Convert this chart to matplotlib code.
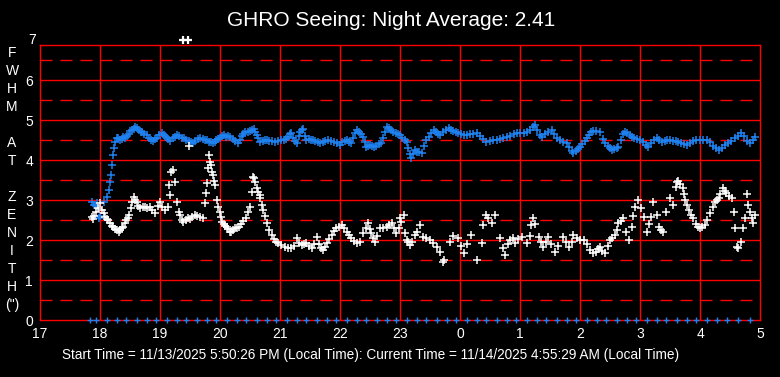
import matplotlib
matplotlib.use("Agg")
import matplotlib.pyplot as plt

# seeing in arcsec vs local hour (hours past midnight counted as 24+)
blue_t = [17.87, 17.90, 17.93, 17.95, 17.98, 18.00, 18.06, 18.11, 18.15, 18.17,
          18.18, 18.20, 18.22, 18.24,
          18.25, 18.28, 18.30, 18.33, 18.36, 18.39, 18.42, 18.45, 18.48, 18.50,
          18.53, 18.56, 18.59, 18.62, 18.65, 18.68, 18.70, 18.74, 18.78, 18.81,
          18.85, 18.88, 18.92, 18.95, 18.99, 19.03, 19.06, 19.10, 19.13, 19.17,
          19.21, 19.25, 19.28, 19.32, 19.36, 19.40, 19.44, 19.48, 19.52, 19.55,
          19.59, 19.63, 19.67, 19.71, 19.75, 19.78, 19.82, 19.85, 19.88, 19.91,
          19.94, 19.97, 20.00, 20.03, 20.06, 20.10, 20.13, 20.17, 20.21, 20.25,
          20.30, 20.33, 20.36, 20.39, 20.42, 20.46, 20.50, 20.53, 20.56, 20.59,
          20.62, 20.64, 20.67, 20.71, 20.75, 20.78, 20.82, 20.87, 20.92, 20.96,
          21.01, 21.06, 21.10, 21.14, 21.17, 21.19, 21.22, 21.25, 21.28, 21.31,
          21.34, 21.36, 21.38, 21.41, 21.44, 21.48, 21.52, 21.55, 21.59, 21.63,
          21.67, 21.71, 21.75, 21.80, 21.85, 21.90, 21.95, 22.00, 22.04, 22.08,
          22.11, 22.15, 22.19, 22.22, 22.25, 22.28, 22.31, 22.35, 22.39, 22.42,
          22.44, 22.47, 22.50, 22.53, 22.56, 22.60, 22.65, 22.69, 22.72, 22.75,
          22.78, 22.81, 22.85, 22.89, 22.93, 22.97, 23.00, 23.04, 23.08, 23.11,
          23.14, 23.17, 23.19, 23.22, 23.25, 23.28, 23.32, 23.36, 23.40, 23.44,
          23.48, 23.52, 23.56, 23.60, 23.64, 23.67, 23.71, 23.76, 23.81, 23.85,
          23.89, 23.93, 23.97, 24.02, 24.06, 24.11, 24.16, 24.22, 24.28, 24.33,
          24.38, 24.44, 24.50, 24.55, 24.61, 24.67, 24.72, 24.78, 24.84, 24.90,
          24.95, 25.00, 25.06, 25.11, 25.16, 25.21, 25.25, 25.29, 25.33, 25.36,
          25.41, 25.47, 25.53, 25.57, 25.61, 25.66, 25.72, 25.78, 25.82, 25.86,
          25.89, 25.93, 25.97, 26.00, 26.04, 26.08, 26.11, 26.15, 26.19, 26.22,
          26.27, 26.33, 26.38, 26.42, 26.46, 26.50, 26.53, 26.57, 26.61, 26.64,
          26.68, 26.72, 26.75, 26.79, 26.83, 26.86, 26.90, 26.95, 27.00, 27.05,
          27.10, 27.14, 27.19, 27.24, 27.28, 27.32, 27.36, 27.41, 27.45, 27.50,
          27.55, 27.60, 27.64, 27.69, 27.73, 27.78, 27.83, 27.89, 27.94, 28.00,
          28.05, 28.11, 28.16, 28.21, 28.26, 28.31, 28.36, 28.42, 28.47, 28.52,
          28.58, 28.63, 28.69, 28.74, 28.79, 28.83, 28.88, 28.92]
blue_v = [2.95, 2.88, 2.85, 2.92, 2.55, 2.60, 2.95, 3.08, 3.25, 3.46,
          3.62, 3.87, 4.12, 4.29,
          4.44, 4.56, 4.54, 4.50, 4.52, 4.58, 4.55, 4.60, 4.66, 4.72,
          4.74, 4.78, 4.82, 4.80, 4.74, 4.71, 4.70, 4.64, 4.62, 4.55,
          4.50, 4.48, 4.52, 4.55, 4.62, 4.67, 4.62, 4.58, 4.52, 4.48,
          4.54, 4.58, 4.62, 4.60, 4.56, 4.55, 4.50, 4.47, 4.45, 4.43,
          4.48, 4.52, 4.54, 4.52, 4.50, 4.50, 4.46, 4.44, 4.42, 4.46,
          4.50, 4.52, 4.56, 4.60, 4.62, 4.58, 4.60, 4.58, 4.52, 4.47,
          4.42, 4.50, 4.60, 4.66, 4.71, 4.70, 4.72, 4.74, 4.77, 4.70,
          4.62, 4.55, 4.46, 4.48, 4.50, 4.50, 4.48, 4.47, 4.46, 4.48,
          4.49, 4.50, 4.52, 4.58, 4.64, 4.67, 4.55, 4.48, 4.42, 4.60,
          4.70, 4.75, 4.78, 4.60, 4.50, 4.52, 4.50, 4.50, 4.47, 4.44,
          4.42, 4.46, 4.48, 4.50, 4.48, 4.46, 4.42, 4.38, 4.44, 4.48,
          4.50, 4.46, 4.42, 4.55, 4.68, 4.75, 4.70, 4.64, 4.58, 4.45,
          4.33, 4.36, 4.38, 4.35, 4.33, 4.36, 4.40, 4.42, 4.55, 4.70,
          4.83, 4.80, 4.75, 4.71, 4.68, 4.65, 4.62, 4.55, 4.50, 4.46,
          4.30, 4.14, 4.04, 4.15, 4.25, 4.20, 4.20, 4.17, 4.35, 4.50,
          4.58, 4.68, 4.75, 4.70, 4.65, 4.62, 4.70, 4.75, 4.79, 4.75,
          4.72, 4.69, 4.67, 4.64, 4.63, 4.62, 4.64, 4.66, 4.67, 4.60,
          4.52, 4.46, 4.48, 4.49, 4.50, 4.53, 4.55, 4.58, 4.61, 4.64,
          4.67, 4.67, 4.68, 4.69, 4.74, 4.82, 4.87, 4.75, 4.63, 4.58,
          4.65, 4.70, 4.75, 4.64, 4.54, 4.50, 4.46, 4.42, 4.32, 4.22,
          4.17, 4.22, 4.28, 4.33, 4.40, 4.48, 4.54, 4.62, 4.70, 4.73,
          4.72, 4.69, 4.52, 4.42, 4.36, 4.30, 4.25, 4.28, 4.30, 4.33,
          4.50, 4.65, 4.71, 4.68, 4.62, 4.58, 4.55, 4.52, 4.50, 4.44,
          4.38, 4.33, 4.42, 4.50, 4.54, 4.50, 4.46, 4.48, 4.50, 4.50,
          4.48, 4.47, 4.46, 4.42, 4.40, 4.38, 4.42, 4.47, 4.50, 4.50,
          4.50, 4.50, 4.44, 4.36, 4.30, 4.25, 4.30, 4.37, 4.42, 4.48,
          4.54, 4.60, 4.67, 4.60, 4.48, 4.42, 4.50, 4.57]

white_t = [17.86, 17.88, 17.90, 17.93, 17.97, 18.00, 18.03, 18.06, 18.09, 18.12,
           18.14, 18.17, 18.20, 18.22, 18.25, 18.28, 18.31, 18.34, 18.37, 18.39,
           18.42, 18.44, 18.47, 18.49, 18.51, 18.54, 18.56, 18.59, 18.61, 18.64,
           18.67, 18.71, 18.75, 18.79, 18.83, 18.87, 18.92, 18.96, 19.00, 19.04,
           19.08, 19.13, 19.15, 19.16, 19.19, 19.21, 19.25, 19.28, 19.31, 19.33,
           19.36, 19.38, 19.43, 19.47, 19.49, 19.50, 19.54, 19.58, 19.62, 19.67,
           19.71, 19.75, 19.77, 19.78, 19.80, 19.82, 19.84, 19.85, 19.86, 19.88,
           19.90, 19.92, 19.95, 19.97, 20.00, 20.02, 20.03, 20.06, 20.09, 20.11,
           20.14, 20.17, 20.19, 20.22, 20.25, 20.28, 20.31, 20.35, 20.39, 20.43,
           20.47, 20.50, 20.53, 20.55, 20.56, 20.58, 20.61, 20.63, 20.66, 20.67,
           20.70, 20.72, 20.75, 20.78, 20.82, 20.86, 20.90, 20.94, 20.97, 21.02,
           21.08, 21.13, 21.19, 21.23, 21.28, 21.32, 21.36, 21.40, 21.44, 21.48,
           21.53, 21.57, 21.61, 21.65, 21.69, 21.72, 21.75, 21.78, 21.82, 21.86,
           21.90, 21.94, 21.98, 22.03, 22.07, 22.11, 22.15, 22.19, 22.23, 22.28,
           22.33, 22.39, 22.44, 22.47, 22.50, 22.52, 22.55, 22.58, 22.62, 22.67,
           22.72, 22.78, 22.82, 22.86, 22.90, 22.94, 22.99, 23.00, 23.02, 23.06,
           23.08, 23.11, 23.14, 23.17, 23.20, 23.25, 23.29, 23.33, 23.39, 23.44,
           23.50, 23.55, 23.61, 23.66, 23.72, 23.74, 23.83, 23.88, 23.97, 24.02,
           24.06, 24.12, 24.19, 24.28, 24.36, 24.39, 24.43, 24.47, 24.53, 24.58,
           24.67, 24.72, 24.75, 24.80, 24.83, 24.88, 24.92, 24.97, 25.03, 25.11,
           25.16, 25.19, 25.22, 25.25, 25.31, 25.35, 25.39, 25.43, 25.47, 25.52,
           25.58, 25.63, 25.72, 25.76, 25.81, 25.86, 25.89, 25.95, 26.00, 26.06,
           26.12, 26.17, 26.22, 26.26, 26.30, 26.33, 26.37, 26.42, 26.46, 26.50,
           26.54, 26.58, 26.61, 26.64, 26.68, 26.72, 26.77, 26.81, 26.86, 26.89,
           26.92, 26.97, 27.02, 27.06, 27.11, 27.15, 27.19, 27.22, 27.28, 27.31,
           27.35, 27.39, 27.44, 27.50, 27.55, 27.60, 27.62, 27.64, 27.67, 27.71,
           27.73, 27.75, 27.78, 27.81, 27.85, 27.89, 27.93, 27.97, 28.00, 28.04,
           28.08, 28.12, 28.17, 28.21, 28.25, 28.28, 28.31, 28.34, 28.38, 28.41,
           28.44, 28.48, 28.53, 28.56, 28.58, 28.61, 28.64, 28.69, 28.72, 28.75,
           28.78, 28.80, 28.83, 28.86, 28.89, 28.92]
white_v = [2.58, 2.52, 2.60, 2.70, 2.79, 2.92, 2.75, 2.67, 2.58, 2.52,
           2.50, 2.42, 2.36, 2.33, 2.28, 2.24, 2.21, 2.25, 2.30, 2.33,
           2.42, 2.50, 2.56, 2.62, 2.79, 2.95, 3.08, 3.00, 2.96, 2.85,
           2.79, 2.82, 2.83, 2.80, 2.82, 2.75, 2.67, 2.85, 2.96, 2.82,
           2.75, 2.83, 3.38, 3.12, 3.71, 3.75, 3.46, 2.96, 2.70, 2.62,
           2.50, 2.44, 2.50, 2.55, 4.35, 2.52, 2.58, 2.62, 2.60, 2.58,
           2.55, 2.92, 3.17, 3.42, 3.80, 4.12, 3.95, 3.87, 3.71, 3.62,
           3.48, 3.37, 3.00, 2.83, 2.71, 2.58, 2.46, 2.40, 2.35, 2.33,
           2.27, 2.21, 2.21, 2.25, 2.29, 2.30, 2.33, 2.40, 2.48, 2.55,
           2.70, 2.83, 3.20, 3.58, 3.54, 3.45, 3.31, 3.20, 3.12, 3.04,
           2.88, 2.75, 2.60, 2.42, 2.25, 2.12, 2.02, 1.96, 1.92, 1.88,
           1.83, 1.80, 1.79, 1.85, 2.04, 1.92, 1.88, 1.90, 1.92, 1.85,
           1.79, 1.90, 2.08, 1.90, 1.80, 1.75, 1.82, 1.92, 2.02, 2.12,
           2.22, 2.29, 2.33, 2.38, 2.30, 2.21, 2.12, 2.04, 1.98, 1.92,
           1.96, 2.17, 2.30, 2.42, 2.28, 2.17, 2.05, 1.96, 2.10, 2.29,
           2.30, 2.33, 2.38, 2.42, 2.30, 2.17, 2.29, 2.55, 2.45, 2.62,
           2.17, 2.00, 1.95, 1.88, 1.95, 2.12, 2.20, 2.38, 2.08, 2.05,
           2.00, 1.92, 1.83, 1.70, 1.46, 1.50, 1.96, 2.10, 2.04, 1.85,
           1.67, 1.90, 2.12, 1.50, 1.92, 2.38, 2.62, 2.55, 2.42, 2.62,
           2.04, 1.79, 1.62, 1.90, 2.00, 2.05, 1.92, 2.02, 2.08, 1.92,
           2.10, 2.38, 2.54, 2.40, 2.08, 1.95, 1.83, 1.95, 2.08, 1.90,
           1.71, 1.85, 2.08, 1.95, 1.83, 1.95, 2.12, 2.05, 2.00, 2.00,
           1.90, 1.75, 1.67, 1.70, 1.78, 1.83, 1.72, 1.67, 1.85, 2.00,
           2.05, 2.12, 2.25, 2.42, 2.48, 2.54, 2.20, 2.00, 2.33, 2.60,
           2.83, 3.00, 2.80, 2.58, 2.21, 2.40, 2.58, 2.96, 2.62, 2.33,
           2.25, 2.21, 2.71, 3.04, 2.88, 3.33, 3.45, 3.48, 3.40, 3.29,
           3.15, 3.00, 2.88, 2.75, 2.62, 2.54, 2.40, 2.32, 2.29, 2.33,
           2.38, 2.50, 2.67, 2.82, 2.96, 3.00, 3.04, 3.15, 3.29, 3.22,
           3.17, 3.10, 3.04, 2.71, 2.29, 1.83, 1.80, 1.96, 2.29, 2.54,
           3.14, 2.88, 2.71, 2.55, 2.42, 2.62]

# readings pinned at the top of the scale
clip_t = [19.39, 19.47]
clip_v = [7.0, 7.0]

# zero readings logged every 10 minutes
zero_t = [17.83, 17.94, 18.11, 18.28, 18.44, 18.61, 18.78, 18.94, 19.11, 19.28,
          19.44, 19.61, 19.78, 19.94, 20.11, 20.28, 20.44, 20.61, 20.78, 20.94,
          21.11, 21.28, 21.44, 21.61, 21.78, 21.94, 22.11, 22.28, 22.44, 22.61,
          22.78, 22.94, 23.11, 23.28, 23.44, 23.61, 23.78, 23.94, 24.11, 24.28,
          24.44, 24.61, 24.78, 24.94, 25.11, 25.28, 25.44, 25.61, 25.78, 25.94,
          26.11, 26.28, 26.44, 26.61, 26.78, 26.94, 27.11, 27.28, 27.44, 27.61,
          27.78, 27.94, 28.11, 28.28, 28.45, 28.64, 28.83]
zero_v = [0.0] * len(zero_t)

hour_ticks = list(range(17, 30))
hour_labels = ["17", "18", "19", "20", "21", "22", "23",
               "0", "1", "2", "3", "4", "5"]
ylabel_letters = ["F", "W", "H", "M", "", "A", "T", "",
                  "Z", "E", "N", "I", "T", "H", "(\")"]

title = "GHRO Seeing: Night Average: 2.41"
footer = ("Start Time = 11/13/2025 5:50:26 PM (Local Time): "
          "Current Time = 11/14/2025 4:55:29 AM (Local Time)")

plt.rcParams["font.family"] = ["Liberation Sans", "DejaVu Sans"]
plt.rcParams["lines.scale_dashes"] = False

W, H = 780, 377
fig = plt.figure(figsize=(W / 100, H / 100), dpi=100, facecolor="black")
ax = fig.add_axes([40 / W, (H - 320) / H, 720 / W, 275 / H], facecolor="black")
ax.set_xlim(17, 29)
ax.set_ylim(0, 6.875)

RED = "#ff0000"
for x in hour_ticks[1:-1]:
    ax.axvline(x, color=RED, lw=1.0, zorder=1)
for y in range(1, 7):
    ax.axhline(y, color=RED, lw=1.0, zorder=1)
for y in [0.5, 1.5, 2.5, 3.5, 4.5, 5.5, 6.5]:
    ax.axhline(y, color=RED, lw=1.0, dashes=(8.64, 5.76), zorder=1)
for s in ax.spines.values():
    s.set_color(RED)
    s.set_linewidth(1.0)

BLUE = "#1e82f0"
ax.plot(blue_t, blue_v, ls="none", marker="+", ms=6, mew=1.1, color=BLUE, zorder=3)
ax.plot(white_t, white_v, ls="none", marker="+", ms=6, mew=1.1, color="white", zorder=4)
ax.plot(clip_t, clip_v, ls="none", marker="+", ms=6, mew=1.6, color="white",
        clip_on=False, zorder=4)
ax.plot(zero_t, zero_v, ls="none", marker="+", ms=4.5, mew=1.0, color=BLUE,
        clip_on=False, zorder=3)

ax.set_xticks(hour_ticks)
ax.set_xticklabels(hour_labels)
ax.set_yticks(range(0, 7))
ax.tick_params(length=0, colors="white", labelsize=10)
ax.tick_params(axis="x", pad=5)
ax.tick_params(axis="y", pad=5)
ax.text(-0.006, 7.0, "7", transform=ax.get_yaxis_transform(), ha="right",
        va="center", color="white", fontsize=10, clip_on=False)

for i, ch in enumerate(ylabel_letters):
    if ch:
        fig.text(12 / W, 1 - (53 + 18 * i) / H, ch, ha="center", va="center",
                 color="white", fontsize=10)

fig.text(391 / W, 1 - 20 / H, title, ha="center", va="center",
         color="white", fontsize=15)
fig.text(371 / W, 1 - 355 / H, footer, ha="center", va="center",
         color="white", fontsize=9.8)

fig.savefig("out.png", dpi=100, facecolor="black")
